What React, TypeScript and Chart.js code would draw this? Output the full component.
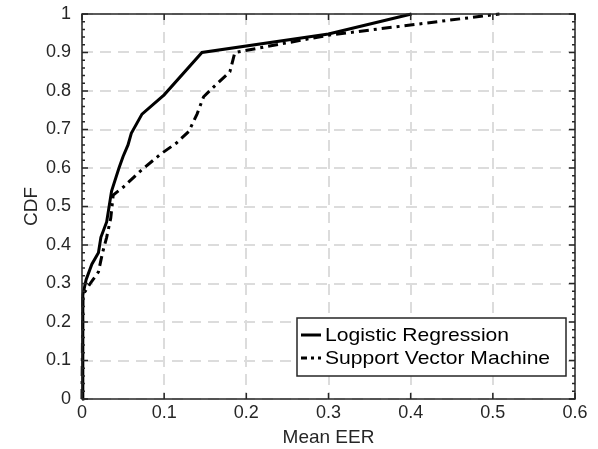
import React, { useEffect, useRef } from "react";
import { Chart, registerables } from "chart.js";

Chart.register(...registerables);

const xTicks = [0, 0.1, 0.2, 0.3, 0.4, 0.5, 0.6];
const yTicks = [0, 0.1, 0.2, 0.3, 0.4, 0.5, 0.6, 0.7, 0.8, 0.9, 1];

const lrLabel = "Logistic Regression";
const lrX = [0, 0.001, 0.005, 0.012, 0.02, 0.023, 0.03, 0.036, 0.045, 0.05, 0.056, 0.06, 0.073, 0.1, 0.146, 0.3, 0.401];
const lrY = [0, 0.27, 0.31, 0.35, 0.38, 0.42, 0.46, 0.54, 0.6, 0.63, 0.66, 0.69, 0.74, 0.79, 0.9, 0.948, 1.0];

const svmLabel = "Support Vector Machine";
const svmX = [0, 0.001, 0.01, 0.02, 0.025, 0.03, 0.035, 0.038, 0.05, 0.07, 0.095, 0.115, 0.13, 0.14, 0.148, 0.16, 0.18, 0.186, 0.3, 0.508];
const svmY = [0, 0.27, 0.3, 0.33, 0.38, 0.42, 0.47, 0.53, 0.55, 0.59, 0.635, 0.665, 0.695, 0.74, 0.785, 0.81, 0.85, 0.9, 0.945, 1.0];

const AXIS = "#262626";
const FONT = "'Liberation Sans', Arial, Helvetica, sans-serif";

const boxPlugin = {
  id: "matlabBox",
  afterDatasetsDraw(chart: any) {
    const { ctx, chartArea: a, scales } = chart;
    const xs = scales.x;
    const ys = scales.y;
    ctx.save();
    ctx.strokeStyle = AXIS;
    ctx.lineWidth = 1.5;
    ctx.setLineDash([]);
    ctx.strokeRect(a.left, a.top, a.right - a.left, a.bottom - a.top);
    ctx.beginPath();
    for (const v of xTicks) {
      const px = xs.getPixelForValue(v);
      ctx.moveTo(px, a.bottom);
      ctx.lineTo(px, a.bottom - 6);
      ctx.moveTo(px, a.top);
      ctx.lineTo(px, a.top + 6);
    }
    for (let i = 0; i <= 50; i++) {
      const v = i / 50;
      const py = ys.getPixelForValue(v);
      const len = i % 5 === 0 ? 6 : 3;
      ctx.moveTo(a.left, py);
      ctx.lineTo(a.left + len, py);
      ctx.moveTo(a.right, py);
      ctx.lineTo(a.right - len, py);
    }
    ctx.stroke();

    // legend
    const lx = 297, ly = 318, lw = 269, lh = 58;
    ctx.fillStyle = "#ffffff";
    ctx.fillRect(lx, ly, lw, lh);
    ctx.lineWidth = 1.5;
    ctx.strokeStyle = AXIS;
    ctx.strokeRect(lx, ly, lw, lh);
    const items = chart.data.datasets;
    ctx.font = `19px ${FONT}`;
    ctx.textBaseline = "middle";
    ctx.textAlign = "left";
    items.forEach((ds: any, i: number) => {
      const y = ly + 17 + i * 23;
      ctx.strokeStyle = ds.borderColor;
      ctx.lineWidth = ds.borderWidth;
      ctx.setLineDash(ds.borderDash ? [6, 4, 3, 4] : []);
      ctx.beginPath();
      ctx.moveTo(lx + 4, y);
      ctx.lineTo(lx + 24, y);
      ctx.stroke();
      ctx.setLineDash([]);
      ctx.fillStyle = "#000000";
      ctx.save();
      ctx.translate(lx + 28, y + 1);
      ctx.scale(1.11, 1);
      ctx.fillText(ds.label, 0, 0);
      ctx.restore();
    });
    ctx.restore();
  },
};

export default function App() {
  const ref = useRef<HTMLCanvasElement>(null);
  useEffect(() => {
    if (!ref.current) return;
    const chart = new Chart(ref.current, {
      type: "line",
      data: {
        datasets: [
          {
            label: lrLabel,
            data: lrX.map((x, i) => ({ x, y: lrY[i] })),
            borderColor: "#000000",
            borderWidth: 3,
            pointRadius: 0,
            tension: 0,
            fill: false,
            clip: false as any,
          },
          {
            label: svmLabel,
            data: svmX.map((x, i) => ({ x, y: svmY[i] })),
            borderColor: "#000000",
            borderWidth: 3,
            borderDash: [10, 5, 3, 5],
            pointRadius: 0,
            tension: 0,
            fill: false,
            clip: false as any,
          },
        ],
      },
      options: {
        animation: false,
        responsive: false,
        layout: { padding: { left: 0, top: 14, right: 23, bottom: 0 } },
        plugins: { legend: { display: false }, tooltip: { enabled: false } },
        scales: {
          x: {
            type: "linear",
            min: 0,
            max: 0.6,
            afterBuildTicks: (s: any) => {
              s.ticks = xTicks.map((v) => ({ value: v }));
            },
            afterFit: (s: any) => {
              s.height = 50;
              s.paddingLeft = 0;
              s.paddingRight = 0;
            },
            ticks: {
              color: AXIS,
              font: { size: 18, family: FONT },
              padding: 3,
              maxRotation: 0,
              callback: (v: any) => String(Number(Number(v).toFixed(1))),
            },
            grid: { color: "#dcdcdc", lineWidth: 2, drawTicks: false },
            border: { display: false, dash: [11, 7] },
            title: {
              display: true,
              text: "Mean EER",
              color: AXIS,
              font: { size: 19, family: FONT },
              padding: { top: 0, bottom: 0 },
            },
          },
          y: {
            type: "linear",
            min: 0,
            max: 1,
            afterBuildTicks: (s: any) => {
              s.ticks = yTicks.map((v) => ({ value: v }));
            },
            afterFit: (s: any) => {
              s.width = 82;
              s.paddingTop = 0;
              s.paddingBottom = 0;
            },
            ticks: {
              color: AXIS,
              font: { size: 18, family: FONT },
              padding: 11,
              callback: (v: any) => String(Number(Number(v).toFixed(1))),
            },
            grid: { color: "#dcdcdc", lineWidth: 2, drawTicks: false },
            border: { display: false, dash: [11, 7] },
            title: {
              display: true,
              text: "CDF",
              color: AXIS,
              font: { size: 19, family: FONT },
              padding: { top: 20, bottom: 0 },
            },
          },
        },
      },
      plugins: [boxPlugin],
    });
    return () => chart.destroy();
  }, []);
  return (
    <div style={{ position: "fixed", left: 0, top: 0, width: 598, height: 449, background: "#fff" }}>
      <canvas ref={ref} width={598} height={449} style={{ display: "block" }} />
    </div>
  );
}
